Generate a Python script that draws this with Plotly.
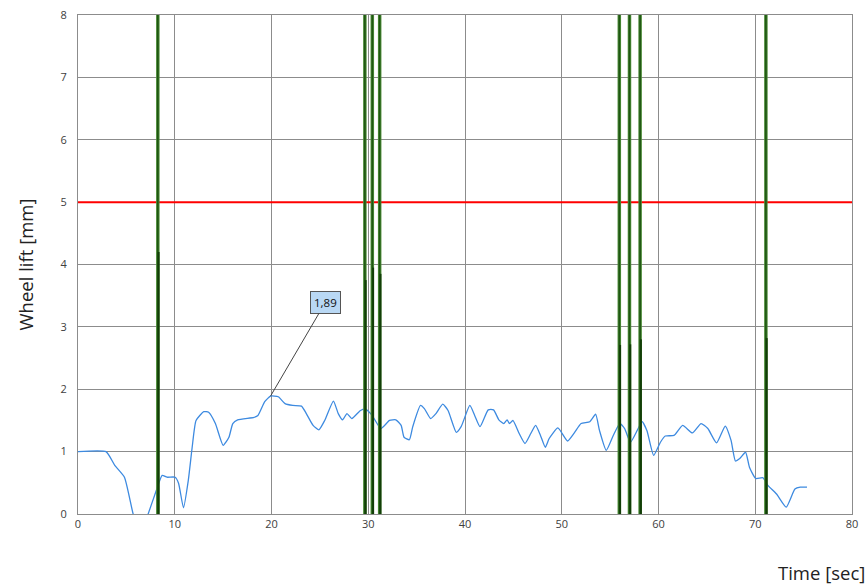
import plotly.graph_objects as go

# ---------------- data ----------------
time_s = [0, 2.9, 3.8, 4.8, 5.7, 6.2, 6.8, 7.25, 8.1, 8.7, 9.2, 10.05, 10.4, 10.9, 11.4, 11.8,
          12.2, 13.0, 13.5, 14.2, 15.0, 15.6, 16.0, 16.5, 18.2, 18.6, 19.3, 19.9, 20.7, 21.4,
          22.2, 23.1, 23.6, 24.3, 24.9, 25.5, 26.4, 26.9, 27.35, 27.8, 28.3, 29.2, 29.7, 30.4,
          31.3, 32.2, 32.85, 33.4, 33.7, 34.25, 34.6, 35.4, 35.8, 36.45, 37.0, 37.7, 38.25,
          39.1, 39.6, 40.5, 41.0, 41.55, 42.4, 42.95, 43.5, 44.0, 44.35, 44.6, 44.95, 45.6,
          46.2, 46.8, 47.3, 47.8, 48.3, 48.7, 49.6, 50.6, 51.3, 52.0, 52.9, 53.5, 53.9, 54.6,
          55.3, 56.0, 56.5, 57.1, 57.8, 58.3, 58.8, 59.5, 60.2, 60.7, 61.6, 62.5, 63.5, 64.4,
          65.1, 66.0, 66.9, 67.5, 67.95, 68.4, 69.0, 69.4, 70.05, 70.8, 71.3, 72.2, 73.2,
          74.1, 74.65, 75.35]
wheel_lift = [1.0, 1.0, 0.78, 0.59, 0.0, -0.2, -0.2, 0.0, 0.38, 0.62, 0.59, 0.59, 0.49, 0.1,
              0.54, 1.07, 1.5, 1.64, 1.63, 1.45, 1.10, 1.23, 1.45, 1.51, 1.55, 1.58, 1.80, 1.89,
              1.88, 1.77, 1.74, 1.73, 1.61, 1.42, 1.35, 1.50, 1.81, 1.61, 1.51, 1.61, 1.53,
              1.66, 1.68, 1.58, 1.37, 1.50, 1.51, 1.42, 1.23, 1.19, 1.40, 1.74, 1.69, 1.53,
              1.61, 1.76, 1.66, 1.31, 1.40, 1.74, 1.58, 1.40, 1.67, 1.67, 1.51, 1.45, 1.51,
              1.45, 1.50, 1.29, 1.13, 1.29, 1.42, 1.26, 1.07, 1.21, 1.38, 1.17, 1.30, 1.45,
              1.48, 1.60, 1.34, 1.02, 1.25, 1.45, 1.37, 1.15, 1.34, 1.48, 1.34, 0.94, 1.15,
              1.25, 1.26, 1.42, 1.30, 1.45, 1.37, 1.14, 1.41, 1.18, 0.85, 0.89, 0.99, 0.75,
              0.57, 0.58, 0.46, 0.32, 0.11, 0.40, 0.43, 0.43]

spike_t = [8.25, 29.65, 30.42, 31.18, 55.95, 57.0, 58.1, 71.1]
spike_peak = [12, 12, 12, 12, 12, 12, 12, 12]
spike_second = [4.2, 3.75, 3.95, 3.85, 2.71, 2.72, 2.8, 2.82]

limit_t = [0, 80]
limit_val = [5, 5]

max_t = 19.9
max_val = 1.89
max_label = "1,89"

x_ticks = [0, 10, 20, 30, 40, 50, 60, 70, 80]
y_ticks = [0, 1, 2, 3, 4, 5, 6, 7, 8]

# ---------------- figure ----------------
fig = go.Figure()

fig.add_trace(go.Scatter(x=limit_t, y=limit_val, mode="lines",
                         line=dict(color="#ff0000", width=2), hoverinfo="skip"))

fig.add_trace(go.Scatter(x=time_s, y=wheel_lift, mode="lines",
                         line=dict(color="#3d8ae0", width=1.3, shape="spline", smoothing=0.5),
                         hoverinfo="skip"))

main_x, main_y, sec_x, sec_y = [], [], [], []
for t, p, s in zip(spike_t, spike_peak, spike_second):
    main_x += [t, t, None]
    main_y += [0, p, None]
    sec_x += [t + 0.08, t + 0.08, None]
    sec_y += [0, s, None]

fig.add_trace(go.Scatter(x=main_x, y=main_y, mode="lines",
                         line=dict(color="#4a8a36", width=3.5), hoverinfo="skip"))
fig.add_trace(go.Scatter(x=main_x, y=main_y, mode="lines",
                         line=dict(color="#1f5612", width=1.6), hoverinfo="skip"))
fig.add_trace(go.Scatter(x=sec_x, y=sec_y, mode="lines",
                         line=dict(color="#123e07", width=2), hoverinfo="skip"))

fig.add_annotation(x=max_t, y=max_val, xref="x", yref="y", text=max_label,
                   showarrow=True, arrowhead=0, arrowwidth=1, arrowcolor="#444444",
                   ax=55, ay=-94, bgcolor="#b9d8f4", bordercolor="#555555", borderwidth=1,
                   borderpad=3, font=dict(family="Open Sans", size=11.5, color="#111111"))

fig.add_annotation(text="Wheel lift [mm]", xref="paper", yref="paper", x=0, y=0.5,
                   xanchor="center", yanchor="middle",
                   xshift=-53, textangle=-90, showarrow=False,
                   font=dict(family="Open Sans", size=18.5, color="#222222"))
fig.add_annotation(text="Time [sec]", xref="paper", yref="paper", x=1, y=0,
                   xanchor="right", yanchor="middle", xshift=15, yshift=-58,
                   showarrow=False, font=dict(family="Open Sans", size=18.5, color="#222222"))

axis_common = dict(showgrid=True, gridcolor="#8c8c8c", gridwidth=1, zeroline=False,
                   showline=True, linecolor="#8c8c8c", linewidth=1, mirror=True,
                   automargin=False,
                   ticks="", tickfont=dict(family="Open Sans", size=11, color="#404040"))

fig.update_xaxes(range=[0, 80], tickvals=x_ticks, ticktext=[str(v) for v in x_ticks],
                 **axis_common)
fig.update_yaxes(range=[0, 8], tickvals=y_ticks, ticktext=[str(v) for v in y_ticks],
                 ticklabelstandoff=8, **axis_common)

fig.update_layout(width=868, height=585, showlegend=False,
                  margin=dict(l=78, r=16, t=15, b=71),
                  paper_bgcolor="white", plot_bgcolor="white")

fig.write_html("out.html", config={"displayModeBar": False},
               post_script="document.body.style.margin='0';"
               "document.body.style.overflow='hidden';")
